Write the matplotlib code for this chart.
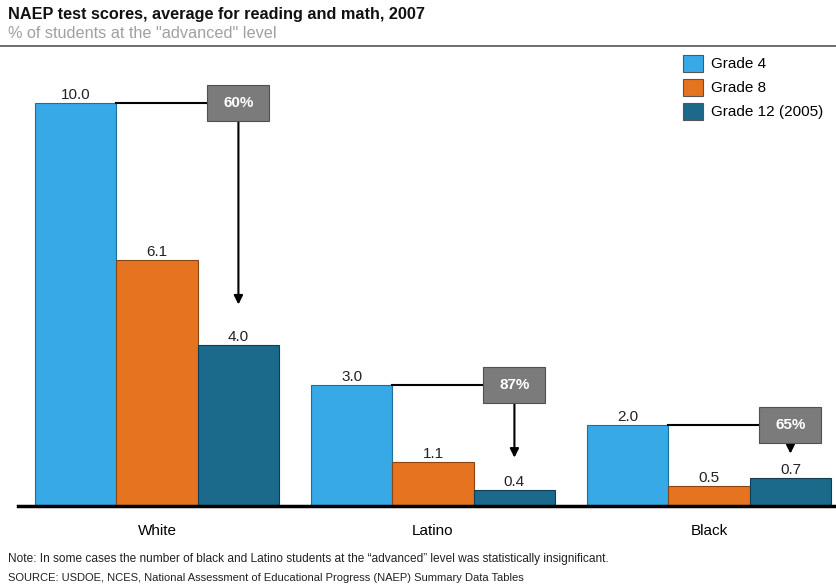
import numpy as np
from matplotlib import pyplot
import matplotlib.patches as mpatches
from matplotlib.lines import Line2D

pyplot.rcParams['font.family'] = ['Liberation Sans', 'DejaVu Sans']

# data
groups = ['White', 'Latino', 'Black']
series = ['Grade 4', 'Grade 8', 'Grade 12 (2005)']
grade4 = [10.0, 3.0, 2.0]
grade8 = [6.1, 1.1, 0.5]
grade12 = [4.0, 0.4, 0.7]
drops = ['60%', '87%', '65%']
arrow_ends = [5.0, 1.2, 1.3]   # where the arrow tip stops

colors = ['#36a9e6', '#e5731f', '#1b6a8b']
edges = ['#1f6f9c', '#8a4512', '#0f3f55']

fig = pyplot.figure(figsize=(8.36, 5.88), dpi=100)
W, H = 836.0, 588.0
ax = fig.add_axes([18 / W, (H - 506) / H, (836 - 18) / W, (506 - 60) / H])

x = np.arange(len(groups))
width = 0.295
values = [grade4, grade8, grade12]
for i, vals in enumerate(values):
    pos = x + (i - 1) * width
    ax.bar(pos, vals, width=width, color=colors[i], edgecolor=edges[i], linewidth=0.8, zorder=2)
    for px, v in zip(pos, vals):
        ax.annotate('%.1f' % v, (px, v), xytext=(0, 0.8), textcoords='offset points',
                    ha='center', va='bottom', fontsize=11, color='#222222')

# drop callouts
box_w, box_h = 0.225, 0.89
for gx, v4, v12, lab, yend in zip(x, grade4, grade12, drops, arrow_ends):
    bx = gx + width
    ax.plot([gx - width / 2, bx - box_w / 2], [v4, v4], color='black', lw=1.5, zorder=3)
    ax.add_patch(mpatches.Rectangle((bx - box_w / 2, v4 - box_h / 2), box_w, box_h,
                                    facecolor='#7b7b7b', edgecolor='#505050', lw=0.8, zorder=4))
    ax.text(bx, v4, lab, ha='center', va='center', color='white', fontsize=11,
            fontweight='bold', zorder=5)
    ax.annotate('', xy=(bx, yend), xytext=(bx, v4 - box_h / 2),
                arrowprops=dict(arrowstyle='-|>', color='black', lw=1.5, mutation_scale=13,
                                shrinkA=0, shrinkB=0), zorder=3)

ax.set_xlim((18 - 157) / 276.0, (836 - 157) / 276.0)
ax.set_ylim(0, (506 - 60) / 40.3)
ax.set_xticks(x)
ax.set_xticklabels(groups, fontsize=11)
ax.tick_params(axis='x', length=0, pad=13)
ax.set_yticks([])
for s in ['top', 'right', 'left']:
    ax.spines[s].set_visible(False)
ax.spines['bottom'].set_linewidth(2.5)
ax.spines['bottom'].set_zorder(6)

# legend
handles = [mpatches.Patch(facecolor=c, edgecolor='#555555', lw=0.8, label=s)
           for c, s in zip(colors, series)]
fig.legend(handles=handles, loc='upper left', bbox_to_anchor=(669 / W, 1 - 41 / H),
           frameon=False, fontsize=11, handlelength=1.35, handleheight=1.35,
           handletextpad=0.5, labelspacing=0.45)

# titles and notes
fig.text(8 / W, 1 - 15 / H, 'NAEP test scores, average for reading and math, 2007',
         fontsize=11.7, fontweight='bold', va='center', color='#111111')
fig.text(8 / W, 1 - 34 / H, '% of students at the "advanced" level',
         fontsize=11.7, va='center', color='#a0a0a0')
fig.add_artist(Line2D([0, 1], [1 - 46 / H, 1 - 46 / H], color='#555555', lw=1.2))
fig.text(8 / W, 1 - 559 / H,
         'Note: In some cases the number of black and Latino students at the \u201cadvanced\u201d level was statistically insignificant.',
         fontsize=8.6, va='center', color='#222222')
fig.text(8 / W, 1 - 578 / H,
         'SOURCE: USDOE, NCES, National Assessment of Educational Progress (NAEP) Summary Data Tables',
         fontsize=8.0, va='center', color='#222222')

fig.savefig('out.png', dpi=100)
